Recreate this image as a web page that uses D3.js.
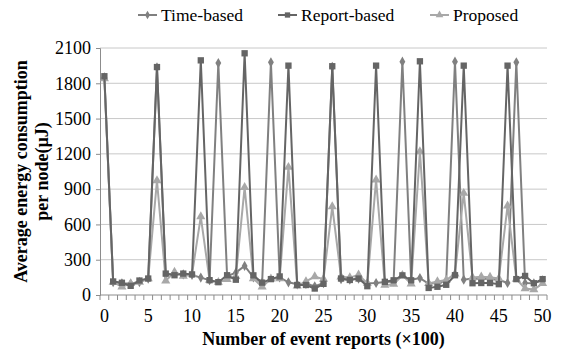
<!DOCTYPE html>
<html><head><meta charset="utf-8">
<script src="https://cdn.jsdelivr.net/npm/d3@7"></script>
<style>body{margin:0;background:#fff}</style>
</head><body>
<script>
const seriesNames = ["Time-based", "Report-based", "Proposed"];
const yTicks = [0, 300, 600, 900, 1200, 1500, 1800, 2100];
const xTicks = [0, 5, 10, 15, 20, 25, 30, 35, 40, 45, 50];
const timeBased = [1850,110,100,95,110,140,1935,170,185,175,170,148,126,1972,160,190,247,150,105,1978,150,108,91,95,74,100,1940,135,130,140,100,102,110,115,1984,130,144,95,105,115,1984,130,140,136,136,130,102,1978,102,100,125];
const reportBased = [1860,115,104,78,123,140,1938,182,168,182,175,1995,126,109,168,130,2055,167,105,135,158,1950,85,85,55,95,1945,140,128,140,75,1950,112,125,167,125,1987,60,70,87,168,1950,100,102,102,92,1950,135,162,100,135];
const proposed = [1840,110,70,98,110,140,973,120,195,160,178,667,126,109,132,158,915,140,70,138,140,1087,78,115,157,135,752,155,148,172,100,979,84,92,168,95,1220,98,115,127,180,866,148,155,152,140,758,136,55,46,98];

const W = 561, H = 351;
const m = {left: 100, right: 14, top: 48, bottom: 56};
const FONT = '"Liberation Serif"';
const svg = d3.select("body").append("svg").attr("width", W).attr("height", H)
  .style("font-family", FONT).attr("font-family", "Liberation Serif");
const x = d3.scaleLinear().domain([-0.5, 50.5]).range([m.left, W - m.right]);
const y = d3.scaleLinear().domain([0, 2100]).range([H - m.bottom, m.top]);
function txt(sel, size, bold) {
  sel.style("font-family", FONT).attr("font-size", size);
  if (bold) sel.attr("font-weight", "bold");
  return sel;
}

// gridlines
svg.append("g").selectAll("line").data(yTicks.filter(d => d > 0)).join("line")
  .attr("x1", m.left).attr("x2", W - m.right)
  .attr("y1", d => y(d)).attr("y2", d => y(d))
  .attr("stroke", "#c8c8c8").attr("stroke-width", 1);

// y axis
const yAxis = svg.append("g").attr("transform", `translate(${m.left},0)`)
  .call(d3.axisLeft(y).tickValues(yTicks).tickFormat(d3.format("d")).tickSize(4).tickPadding(5));
yAxis.attr("font-family", "Liberation Serif").attr("font-size", 18);
yAxis.select(".domain").attr("stroke", "#8c8c8c");
yAxis.selectAll(".tick line").attr("stroke", "#8c8c8c");
txt(yAxis.selectAll("text"), 18).attr("fill", "#000");

// x axis
const xAxis = svg.append("g").attr("transform", `translate(0,${y(0)})`);
xAxis.append("line").attr("x1", m.left).attr("x2", W - m.right).attr("y1", 0).attr("y2", 0).attr("stroke", "#8c8c8c");
const cats = d3.range(0, 52).map(i => i - 0.5);
xAxis.selectAll("line.t").data(cats).join("line").attr("class", "t")
  .attr("x1", d => x(d)).attr("x2", d => x(d)).attr("y1", 0).attr("y2", 5).attr("stroke", "#8c8c8c");
txt(xAxis.selectAll("text").data(xTicks).join("text")
  .attr("x", d => x(d)).attr("y", 27).attr("text-anchor", "middle"), 18).text(d => d);

// titles
txt(svg.append("text").attr("x", (m.left + W - m.right) / 2).attr("y", 345).attr("text-anchor", "middle"), 18, true)
  .text("Number of event reports (×100)");
const yt = txt(svg.append("text").attr("transform", `translate(27,${(y(0)+y(2100))/2}) rotate(-90)`)
  .attr("text-anchor", "middle"), 18, true);
yt.append("tspan").attr("x", 0).attr("dy", 0).text("Average energy consumption");
yt.append("tspan").attr("x", 0).attr("dy", 21).text("per node(µJ)");

const series = [
  {name: seriesNames[0], data: timeBased, color: "#808080", sym: d3.symbolDiamond, size: 30},
  {name: seriesNames[1], data: reportBased, color: "#656565", sym: d3.symbolSquare, size: 40},
  {name: seriesNames[2], data: proposed, color: "#a8a8a8", sym: d3.symbolTriangle, size: 36}
];
const line = d3.line().x((d, i) => x(i)).y(d => y(d));
const order = [0, 2, 1];
order.forEach(k => {
  const s = series[k];
  const g = svg.append("g");
  g.append("path").attr("d", line(s.data)).attr("fill", "none").attr("stroke", s.color).attr("stroke-width", 2);
  g.selectAll("path.m").data(s.data).join("path").attr("class", "m")
    .attr("transform", (d, i) => `translate(${x(i)},${y(d)})`)
    .attr("d", d3.symbol().type(s.sym).size(s.size)).attr("fill", s.color);
});

// legend
const legX = [138, 278, 430];
const lg = svg.append("g");
series.forEach((s, k) => {
  const g = lg.append("g").attr("transform", `translate(${legX[k]},15)`);
  g.append("line").attr("x1", 0).attr("x2", 19).attr("stroke", s.color).attr("stroke-width", 2);
  g.append("path").attr("transform", "translate(9.5,0)").attr("d", d3.symbol().type(s.sym).size(s.size * 0.7)).attr("fill", s.color);
  txt(g.append("text").attr("x", 23).attr("y", 6), 17.5).text(s.name);
});
</script>
</body></html>
